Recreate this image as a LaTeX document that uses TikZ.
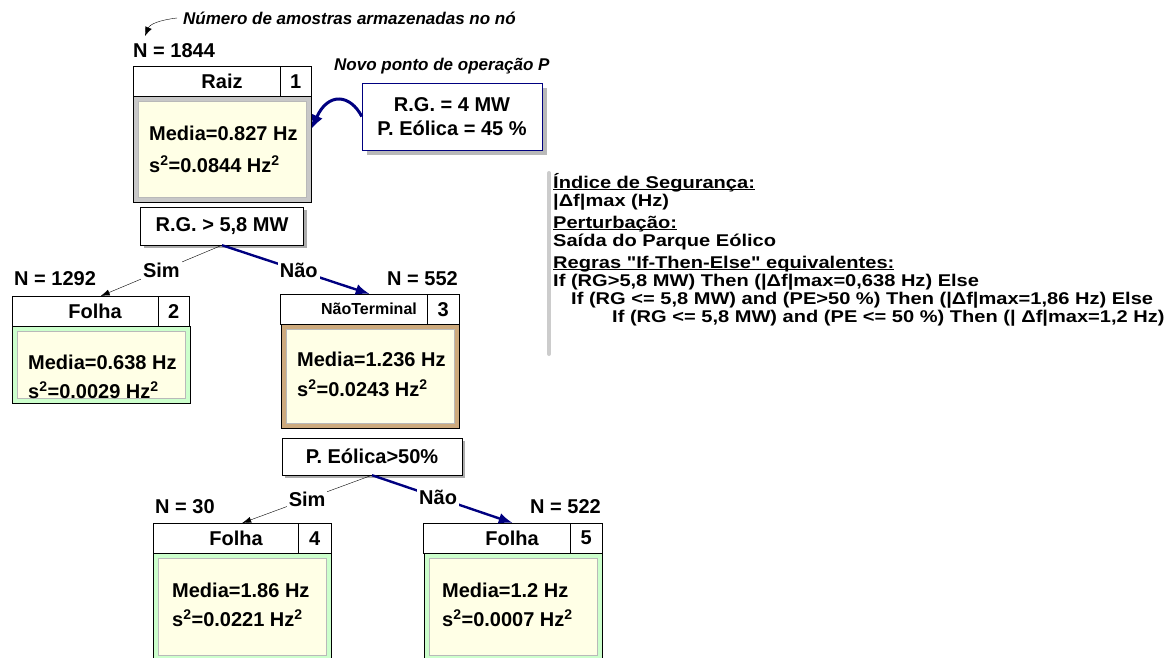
\documentclass[tikz,border=0pt]{standalone}
\usepackage{fontspec}
\setmainfont{Liberation Sans}
\newfontfamily\widesans[FakeStretch=1.18]{Liberation Sans}
\usetikzlibrary{arrows.meta,positioning,shadows}

\newcommand{\undl}[1]{\setbox0\hbox{#1}\rlap{\rule[-2.4pt]{\wd0}{1.2pt}}\box0}

\definecolor{navyline}{RGB}{0,0,128}
\definecolor{frmgray}{RGB}{200,200,200}
\definecolor{frmtan}{RGB}{205,170,125}
\definecolor{frmgreen}{RGB}{204,255,204}
\definecolor{cream}{RGB}{255,255,230}

\tikzset{
  big/.style={font=\bfseries\fontsize{20}{24}\selectfont, inner sep=0pt},
  small/.style={font=\bfseries\fontsize{16}{18}\selectfont, inner sep=0pt},
  note/.style={font=\bfseries\itshape\fontsize{17}{20}\selectfont, inner sep=0pt, anchor=west},
  rule/.style={font=\widesans\bfseries\fontsize{17}{18}\selectfont, inner sep=0pt, anchor=base west},
  count/.style={big, anchor=west},
  hdr/.style={draw, fill=white, minimum height=30pt, inner sep=0pt},
  body/.style={draw, anchor=north, minimum width=178pt},
  panel/.style={draw=gray!55, fill=cream, minimum width=168pt},
  cond/.style={big, draw, fill=white,
    drop shadow={shadow xshift=3pt, shadow yshift=-3pt, fill=gray!65, opacity=1}},
  sim/.style={thin, -{Latex[length=9pt,width=6pt]}},
  nao/.style={navyline, line width=2.4pt, -{Latex[length=14pt,width=11pt]}},
  lbl/.style={big, text=black, fill=white, inner sep=2pt}
}

\begin{document}
\begin{tikzpicture}[x=1pt,y=-1pt]
  \clip (0,0) rectangle (1172,658);

  % root
  \node[count] (cnt1) at (133,51) {N = 1844};
  \node[hdr, minimum width=178pt, anchor=north west] (h1) at (133,66) {};
  \node[hdr, big, minimum width=31pt, anchor=north east] (k1) at (h1.north east) {1};
  \node[big] (t1) at (222,81) {Raiz};
  \node[body, fill=frmgray, minimum height=106pt] (b1) at (h1.south) {};
  \node[panel, minimum height=96pt] (p1) at (b1) {};
  \node[big, anchor=west] (m1) at (149,133) {Media=0.827 Hz};
  \node[big, anchor=west] (s1) at (149,164) {s\textsuperscript{2}=0.0844 Hz\textsuperscript{2}};

  % leaf 2
  \node[count] (cnt2) at (14,279) {N = 1292};
  \node[hdr, minimum width=177pt, anchor=north west] (h2) at (12,296) {};
  \node[hdr, big, minimum width=31pt, anchor=north east] (k2) at (h2.north east) {2};
  \node[big] (t2) at (95,311) {Folha};
  \node[body, fill=frmgreen, minimum height=77pt] (b2) at (h2.south) {};
  \node[panel, minimum height=67pt] (p2) at (b2) {};
  \node[big, anchor=west] (m2) at (28,362) {Media=0.638 Hz};
  \node[big, anchor=west] (s2) at (28,390) {s\textsuperscript{2}=0.0029 Hz\textsuperscript{2}};

  % non terminal 3
  \node[count] (cnt3) at (387,279) {N = 552};
  \node[hdr, minimum width=179pt, anchor=north west] (h3) at (280,294) {};
  \node[hdr, big, minimum width=32pt, anchor=north east] (k3) at (h3.north east) {3};
  \node[small] (t3) at (369,309) {NãoTerminal};
  \node[body, fill=frmtan, minimum height=104pt] (b3) at (h3.south) {};
  \node[panel, minimum height=94pt] (p3) at (b3) {};
  \node[big, anchor=west] (m3) at (297,359) {Media=1.236 Hz};
  \node[big, anchor=west] (s3) at (297,388) {s\textsuperscript{2}=0.0243 Hz\textsuperscript{2}};

  % leaf 4
  \node[count] (cnt4) at (155,507) {N = 30};
  \node[hdr, minimum width=178pt, anchor=north west] (h4) at (153,523) {};
  \node[hdr, big, minimum width=33pt, anchor=north east] (k4) at (h4.north east) {4};
  \node[big] (t4) at (236,538) {Folha};
  \node[body, fill=frmgreen, minimum height=107pt] (b4) at (h4.south) {};
  \node[panel, minimum height=97pt] (p4) at (b4) {};
  \node[big, anchor=west] (m4) at (172,590) {Media=1.86 Hz};
  \node[big, anchor=west] (s4) at (172,618) {s\textsuperscript{2}=0.0221 Hz\textsuperscript{2}};

  % leaf 5
  \node[count] (cnt5) at (530,507) {N = 522};
  \node[hdr, minimum width=179pt, anchor=north west] (h5) at (423,523) {};
  \node[hdr, big, minimum width=32pt, anchor=north east] (k5) at (h5.north east) {5};
  \node[big] (t5) at (512,538) {Folha};
  \node[body, fill=frmgreen, minimum height=107pt] (b5) at (h5.south) {};
  \node[panel, minimum height=97pt] (p5) at (b5) {};
  \node[big, anchor=west] (m5) at (442,590) {Media=1.2 Hz};
  \node[big, anchor=west] (s5) at (442,618) {s\textsuperscript{2}=0.0007 Hz\textsuperscript{2}};

  % tests
  \node[cond, minimum width=163pt, minimum height=38pt] (c1) at (222,226) {R.G. > 5,8 MW};
  \node[cond, minimum width=180pt, minimum height=37pt] (c2) at (372,456.5) {P. Eólica>50\%};

  \draw[sim] (c1.south) -- node[lbl] {Sim} (h2.north);
  \draw[nao] (c1.south) -- node[lbl, pos=0.52] {Não} (h3.north);
  \draw[sim] (c2.south) -- node[lbl] {Sim} (h4.north);
  \draw[nao] (c2.south) -- node[lbl, pos=0.47] {Não} (h5.north);

  % operating point
  \node[note] (tnp) at (334,66) {Novo ponto de operação P};
  \node[big, draw=navyline, fill=white, align=center, minimum width=180pt, minimum height=67pt,
    drop shadow={shadow xshift=5pt, shadow yshift=-5pt, fill=gray!55, opacity=1}] (np) at (452,116.5)
    {R.G. = 4 MW\\P. Eólica = 45 \%};
  \draw[navyline, line width=3pt, -{Latex[length=14pt,width=12pt]}]
    (np.west) .. controls (350,94) and (328,92) .. (b1.13);

  \node[note] (tns) at (183,18) {Número de amostras armazenadas no nó};
  \draw[thin, -{Latex[length=9pt,width=7pt]}] ([xshift=-6pt]tns.west) .. controls (160,20) and (150,24) .. (145,36);

  % legend
  \draw[gray!40, line width=4pt, line cap=round] (549,173) -- (549,354);
  \node[rule] (r1) at (553,188) {\undl{Índice de Segurança:}};
  \node[rule] (r2) at (553,206) {|Δf|max (Hz)};
  \node[rule] (r3) at (553,228) {\undl{Perturbação:}};
  \node[rule] (r4) at (553,246) {Saída do Parque Eólico};
  \node[rule] (r5) at (553,268) {\undl{Regras "If-Then-Else" equivalentes:}};
  \node[rule] (r6) at (553,286) {If (RG>5,8 MW) Then (|Δf|max=0,638 Hz) Else};
  \node[rule] (r7) at (571,304) {If (RG <= 5,8 MW) and (PE>50 \%) Then (|Δf|max=1,86 Hz) Else};
  \node[rule] (r8) at (612,322) {If (RG <= 5,8 MW) and (PE <= 50 \%) Then (| Δf|max=1,2 Hz)};
\end{tikzpicture}
\end{document}
